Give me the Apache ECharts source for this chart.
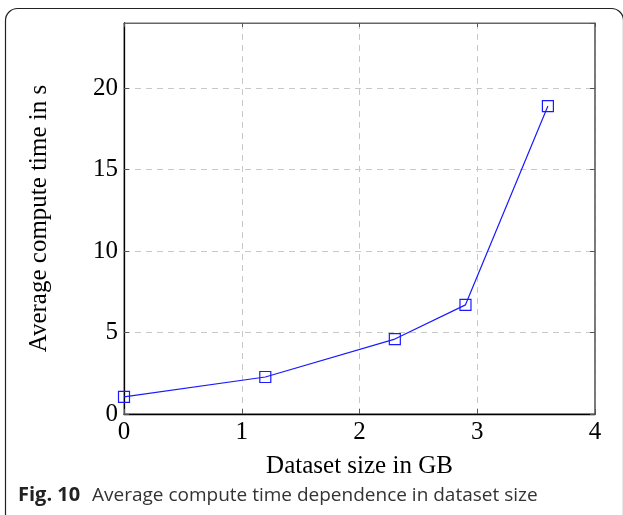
<!DOCTYPE html>
<html>
<head>
<meta charset="utf-8">
<script src="https://cdn.jsdelivr.net/npm/echarts@6/dist/echarts.min.js"></script>
<style>
html,body{margin:0;padding:0;background:#fff;}
#chart{width:623px;height:515px;}
</style>
</head>
<body>
<div id="chart"></div>
<script>
// Data
const datasetSizeGB = [0, 1.2, 2.3, 2.9, 3.6];
const computeTimeS = [1.05, 2.27, 4.6, 6.7, 18.9];
const xTicks = [0, 1, 2, 3, 4];
const yTicks = [0, 5, 10, 15, 20];
const xTitle = 'Dataset size in GB';
const yTitle = 'Average compute time in s';
const captionBold = 'Fig. 10';
const captionText = 'Average compute time dependence in dataset size';

const serif = '"Liberation Serif","DejaVu Serif",serif';
const chart = echarts.init(document.getElementById('chart'), null, {renderer:'canvas'});
const points = datasetSizeGB.map((x, i) => [x, computeTimeS[i]]);

const gridDash = {show:true, lineStyle:{color:'#c8c8c8', type:[6,5], width:1}};
chart.setOption({
  animation:false,
  backgroundColor:'#fff',
  grid:{left:124, right:28, top:23, bottom:101, show:true, borderColor:'#666', borderWidth:1},
  xAxis:[{
    type:'value', min:0, max:4, interval:1, position:'bottom',
    axisLine:{show:true, onZero:false, lineStyle:{color:'#000', width:1.3}},
    axisTick:{show:true, inside:true, length:5, lineStyle:{color:'#555'}},
    axisLabel:{fontFamily:serif, fontSize:25, color:'#000', margin:6,
      formatter:v => xTicks.includes(v) ? String(v) : ''},
    splitLine:gridDash,
    name:xTitle, nameLocation:'middle', nameGap:40,
    nameTextStyle:{fontFamily:serif, fontSize:25, color:'#000'}
  },{
    type:'value', min:0, max:4, interval:1, position:'top',
    axisLine:{show:true, onZero:false, lineStyle:{color:'#666', width:1}},
    axisTick:{show:true, inside:true, length:4, lineStyle:{color:'#555'}},
    axisLabel:{show:false}, splitLine:{show:false}
  }],
  yAxis:[{
    type:'value', min:0, max:24, interval:5, position:'left',
    axisLine:{show:true, onZero:false, lineStyle:{color:'#000', width:1.3}},
    axisTick:{show:true, inside:true, length:5, lineStyle:{color:'#555'}},
    axisLabel:{fontFamily:serif, fontSize:25, color:'#000', margin:6, showMaxLabel:false,
      formatter:v => yTicks.includes(v) ? String(v) : ''},
    splitLine:gridDash,
    name:yTitle, nameLocation:'middle', nameGap:72, nameRotate:90,
    nameTextStyle:{fontFamily:serif, fontSize:25, color:'#000'}
  },{
    type:'value', min:0, max:24, interval:5, position:'right',
    axisLine:{show:true, onZero:false, lineStyle:{color:'#666', width:1.5}},
    axisTick:{show:true, inside:true, length:5, lineStyle:{color:'#555'}},
    axisLabel:{show:false}, splitLine:{show:false}
  }],
  series:[{
    type:'line', data:points, xAxisIndex:0, yAxisIndex:0,
    symbol:'rect', symbolSize:11, showAllSymbol:true,
    lineStyle:{color:'#1a1aff', width:1.2},
    itemStyle:{color:'rgba(0,0,0,0)', borderColor:'#1a1aff', borderWidth:1.2},
    z:5
  }],
  graphic:[
    {type:'rect', left:3, top:6, shape:{width:618, height:540, r:12},
     style:{fill:'none', stroke:'#222', lineWidth:1.2}, silent:true},
    {type:'text', left:18, top:485,
     style:{text:captionBold, font:'bold 20px "Open Sans","Noto Sans",sans-serif', fill:'#222'}},
    {type:'text', left:92, top:486,
     style:{text:captionText, font:'19px "Open Sans","Noto Sans",sans-serif', fill:'#333'}}
  ]
});
</script>
</body>
</html>
